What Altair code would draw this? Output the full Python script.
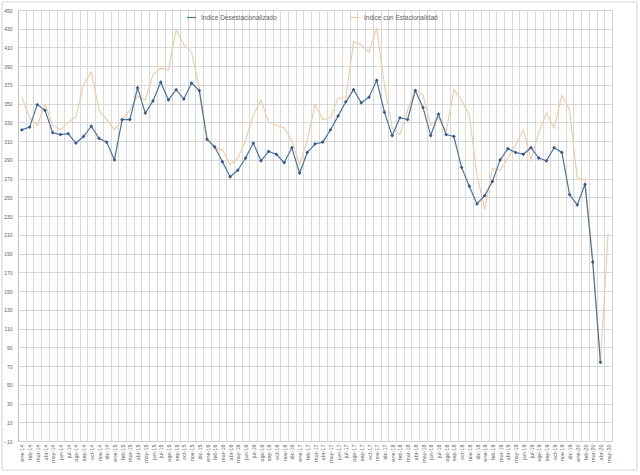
import altair as alt
import pandas as pd

# Monthly labels, ene-14 .. may-20
meses = ["ene", "feb", "mar", "abr", "may", "jun", "jul", "ago", "sep", "oct", "nov", "dic"]
periodos = [f"{m}-{a}" for a in range(14, 21) for m in meses][:77]

# Seasonally adjusted index (ene-14 .. abr-20)
desestacionalizado = [
    322, 325, 349, 343, 319, 317, 318, 308, 315, 326, 313, 309,
    290, 333, 333, 367, 340, 353, 373, 354, 365, 355, 372, 364,
    312, 304, 288, 272, 279, 292, 308, 289, 299, 296, 287, 303,
    276, 298, 307, 309, 322, 337, 352, 365, 351, 357, 375, 341,
    316, 335, 333, 364, 346, 316, 339, 317, 315, 282, 262, 243,
    252, 267, 290, 302, 298, 296, 303, 292, 289, 303, 298, 253,
    242, 264, 181, 74,
]

# Index with seasonality (ene-14 .. may-20)
con_estacionalidad = [
    357, 335, 327, 349, 327, 322, 330, 336, 370, 384, 343, 333,
    322, 333, 343, 358, 354, 381, 388, 386, 429, 413, 405, 367,
    313, 302, 301, 285, 292, 311, 338, 354, 330, 327, 324, 311,
    285, 311, 349, 333, 335, 356, 356, 416, 413, 405, 431, 370,
    324, 317, 343, 365, 359, 327, 335, 320, 365, 354, 338, 274,
    237, 281, 279, 292, 306, 322, 290, 319, 340, 324, 359, 343,
    271, 269, 185, 74, 212,
]

serie_a = "Indice Desestacionalizado"
serie_b = "Indice con Estacionalidad"

df_a = pd.DataFrame({"periodo": periodos[:len(desestacionalizado)],
                     "valor": desestacionalizado, "serie": serie_a})
df_b = pd.DataFrame({"periodo": periodos[:len(con_estacionalidad)],
                     "valor": con_estacionalidad, "serie": serie_b})

W, H = 594, 431
FONT = "Liberation Sans"
TXT = "#606060"
GRID = "#cfcfcf"

x_enc = alt.X(
    "periodo:O", sort=periodos, title=None, bandPosition=0.5,
    scale=alt.Scale(type="band", domain=periodos, paddingInner=0, paddingOuter=0),
    axis=alt.Axis(labelAngle=-90, labelFontSize=5.5, labelColor=TXT, labelFont=FONT,
                  tickBand="extent", grid=True, gridColor=GRID, gridWidth=0.8,
                  ticks=False, domain=False, offset=0, labelPadding=3),
)
y_enc = alt.Y(
    "valor:Q", title=None,
    scale=alt.Scale(domain=[-10, 450], nice=False, zero=False),
    axis=alt.Axis(values=list(range(-10, 451, 20)), labelFontSize=5, labelColor=TXT,
                  labelFont=FONT, grid=True, gridColor=GRID, gridWidth=0.8,
                  ticks=False, domain=True, domainColor="#bfbfbf", labelPadding=6),
)
color_enc = alt.Color(
    "serie:N",
    scale=alt.Scale(domain=[serie_a, serie_b], range=["#4a73a3", "#f3c9a3"]),
    legend=alt.Legend(title=None, orient="none", legendX=168, legendY=2,
                      direction="horizontal", symbolType="stroke", symbolSize=80,
                      symbolStrokeWidth=1.2, labelFontSize=6.5, labelColor=TXT,
                      labelFont=FONT, columnPadding=70),
)

orange = alt.Chart(df_b).mark_line(strokeWidth=1.1).encode(
    x=x_enc, y=y_enc, color=color_enc
)
blue_line = alt.Chart(df_a).mark_line(strokeWidth=1.2).encode(
    x=x_enc, y=y_enc, color=color_enc
)
blue_pts = alt.Chart(df_a).mark_point(
    shape="diamond", size=14, filled=True, opacity=1, color="#35598a"
).encode(x=x_enc, y=y_enc)

frame = alt.Chart(pd.DataFrame({"k": [0]})).mark_rect(
    fill=None, stroke="#d9d9d9", strokeWidth=1.2
).encode(
    x=alt.value(-16), x2=alt.value(W + 25),
    y=alt.value(-8), y2=alt.value(H + 29),
)

chart = alt.layer(orange, blue_line, blue_pts, frame).properties(
    width=W, height=H,
    autosize=alt.AutoSizeParams(type="none"),
    padding={"left": 18, "top": 10, "right": 28, "bottom": 34},
).configure_view(stroke=None).configure(background="white")

chart.save("out.html", embed_options={"renderer": "svg", "actions": False})
